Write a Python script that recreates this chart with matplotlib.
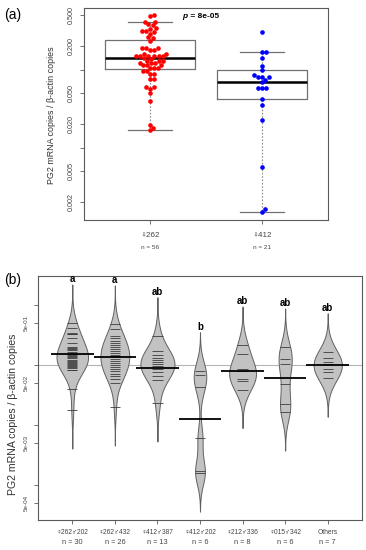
import numpy as np
import matplotlib
matplotlib.use('Agg')
import matplotlib.pyplot as plt

plt.rcParams['font.family'] = ['Liberation Sans', 'DejaVu Sans']

# ---- panel (a): PG2 expression, two female lines ----
a_labels = ['\u2640262', '\u2640412']
a_counts = ['n = 56', 'n = 21']
pg2_262 = [0.50, 0.49, 0.41, 0.41, 0.38, 0.37, 0.34, 0.335, 0.31, 0.31, 0.305, 0.29,
           0.26, 0.255, 0.235, 0.19, 0.19, 0.188, 0.178, 0.176, 0.16, 0.158,
           0.149, 0.149, 0.149, 0.149, 0.149, 0.149, 0.139, 0.138,
           0.13, 0.13, 0.13, 0.122, 0.122, 0.122, 0.114, 0.114, 0.114,
           0.104, 0.104, 0.104, 0.096, 0.095, 0.089, 0.088, 0.077, 0.076,
           0.060, 0.060, 0.057, 0.050, 0.0395, 0.0197, 0.018, 0.0167]
pg2_412 = [0.30, 0.166, 0.166, 0.139, 0.112, 0.099, 0.085, 0.080, 0.080, 0.080,
           0.074, 0.069, 0.059, 0.059, 0.059, 0.042, 0.035, 0.0226, 0.0057,
           0.00164, 0.0015]
# box stats: (whislo, q1, med, q3, whishi)
box_262 = (0.0168, 0.1007, 0.139, 0.241, 0.41)
box_412 = (0.00149, 0.0415, 0.069, 0.099, 0.166)
p_text = '8e-05'

# ---- panel (b): beanplots per cross ----
b_labels = ['\u2640262\u2642202', '\u2640262\u2642432', '\u2640412\u2642387',
            '\u2640412\u2642202', '\u2640212\u2642336', '\u2640015\u2642342', 'Others']
b_counts = ['n = 30', 'n = 26', 'n = 13', 'n = 6', 'n = 8', 'n = 6', 'n = 7']
g_262_202 = [0.494, 0.408, 0.337, 0.330, 0.318, 0.278, 0.229, 0.197, 0.193, 0.182,
             0.175, 0.162, 0.150, 0.145, 0.139, 0.134, 0.127, 0.119, 0.117, 0.111,
             0.107, 0.102, 0.0986, 0.0949, 0.0914, 0.0879, 0.0830, 0.0814, 0.0393, 0.0175]
g_262_432 = [0.476, 0.393, 0.300, 0.278, 0.248, 0.229, 0.212, 0.197, 0.182, 0.169,
             0.156, 0.145, 0.139, 0.134, 0.124, 0.115, 0.107, 0.0986, 0.0914, 0.0846,
             0.0783, 0.0698, 0.0647, 0.0587, 0.0494, 0.0197]
g_412_387 = [0.303, 0.169, 0.145, 0.129, 0.119, 0.111, 0.102, 0.0949, 0.0846,
             0.0754, 0.0647, 0.0555, 0.0230]
g_412_202 = [0.0792, 0.0672, 0.0419, 0.00592, 0.00169, 0.00156]
g_212_336 = [0.212, 0.150, 0.0846, 0.0799, 0.0769, 0.0587, 0.0544, 0.0385]
g_015_342 = [0.197, 0.124, 0.102, 0.0476, 0.0221, 0.0162]
g_others = [0.164, 0.128, 0.109, 0.101, 0.0846, 0.0762, 0.0592]
b_groups = [g_262_202, g_262_432, g_412_387, g_412_202, g_212_336, g_015_342, g_others]
b_means = [0.149, 0.136, 0.089, 0.0125, 0.0784, 0.059, 0.0998]
overall_mean = 0.0998
b_letters = ['a', 'a', 'ab', 'b', 'ab', 'ab', 'ab']

ylabel = 'PG2 mRNA copies / \u03b2-actin copies'
frame_col = '#5a5a5a'
tick_col = '#444444'

fig = plt.figure(figsize=(3.66, 5.5), dpi=100)


def style_frame(ax):
    for s in ax.spines.values():
        s.set_color(frame_col)
        s.set_linewidth(0.8)
    ax.tick_params(colors=frame_col, length=3, width=0.6, labelcolor=tick_col)
    ax.minorticks_off()


def swarm(ydisp, dia):
    # simple beeswarm: put each point as near the centre as it fits
    xs = np.zeros(len(ydisp))
    placed = []
    for i in np.argsort(ydisp):
        y = ydisp[i]
        cands = [0.0]
        for px, py in placed:
            dy = abs(py - y)
            if dy < dia:
                dx = np.sqrt(dia ** 2 - dy ** 2)
                cands += [px + dx, px - dx]
        cands.sort(key=abs)
        for c in cands:
            if all((c - px) ** 2 + (y - py) ** 2 >= dia ** 2 - 1e-6 for px, py in placed):
                xs[i] = c
                break
        placed.append((xs[i], y))
    return xs


# ================= panel (a) =================
axa = fig.add_axes([84 / 366, 1 - 220 / 550, 244 / 366, 212 / 550])
axa.set_yscale('log')
axa.set_xlim(0.41, 2.59)
axa.set_ylim(0.00119, 0.615)

stats = []
for b in (box_262, box_412):
    stats.append(dict(whislo=b[0], q1=b[1], med=b[2], q3=b[3], whishi=b[4], fliers=[]))
axa.bxp(stats, positions=[1, 2], widths=0.8, capwidths=0.4, showfliers=False,
        boxprops=dict(color='#707070', lw=0.9),
        medianprops=dict(color='black', lw=1.8),
        whiskerprops=dict(color='#8c8c8c', lw=0.8, ls=(0, (1.5, 1.5))),
        capprops=dict(color='#707070', lw=0.9))

xpix = axa.transData.transform((1, 1))[0] - axa.transData.transform((0, 1))[0]
for pos, vals, col in ((1, pg2_262, 'red'), (2, pg2_412, 'blue')):
    vals = np.array(vals)
    yd = axa.transData.transform(np.column_stack([np.full(len(vals), pos), vals]))[:, 1]
    off = swarm(yd, 4.2) / xpix
    axa.scatter(pos + off, vals, s=11, color=col, linewidths=0, zorder=3)

a_ticks = [0.5, 0.2, 0.1, 0.05, 0.02, 0.01, 0.005, 0.002]
axa.set_yticks(a_ticks)
axa.set_yticklabels(['%.3f' % t if t not in (0.1, 0.01) else '' for t in a_ticks],
                    rotation=90, va='center', fontsize=5.2)
axa.set_xticks([1, 2])
axa.set_xticklabels([])
style_frame(axa)
for i, (lab, cnt) in enumerate(zip(a_labels, a_counts)):
    axa.text(i + 1, -0.075, lab, transform=axa.get_xaxis_transform(), ha='center',
             va='center', fontsize=5.8, color=tick_col)
    axa.text(i + 1, -0.132, cnt, transform=axa.get_xaxis_transform(), ha='center',
             va='center', fontsize=4.6, color=tick_col)
axa.text(1.33, 0.962, 'p', transform=axa.get_xaxis_transform(), fontsize=6,
         fontweight='bold', fontstyle='italic', ha='right', va='center')
axa.text(1.335, 0.962, ' = ' + p_text, transform=axa.get_xaxis_transform(), fontsize=6,
         fontweight='bold', ha='left', va='center')
fig.text(52 / 366, 1 - 115 / 550, ylabel, rotation=90, ha='center', va='center',
         fontsize=6.4, color='#333333')
fig.text(4 / 366, 1 - 15 / 550, '(a)', fontsize=10, ha='left', va='center')

# ================= panel (b) =================
axb = fig.add_axes([38 / 366, 1 - 520 / 550, 324 / 366, 244 / 550])
axb.set_yscale('log')
axb.set_xlim(0.195, 7.805)
axb.set_ylim(2.58e-4, 3.0)

bw = 0.214      # common bandwidth, log10 units
grownage = 10   # beans with fewer points are drawn smaller (as in beanplot)
kde = []
for vals in b_groups:
    lv = np.log10(vals)
    grid = np.linspace(lv.min() - 3 * bw, lv.max() + 3 * bw, 300)
    dens = np.exp(-0.5 * ((grid[:, None] - lv[None, :]) / bw) ** 2).sum(1)
    dens = dens / (len(lv) * bw * np.sqrt(2 * np.pi))
    dens = dens * min(len(lv), grownage) / grownage
    kde.append((grid, dens))
scale = 0.4 / max(d.max() for g, d in kde)

axb.axhline(overall_mean, color='#b5b5b5', lw=0.8, zorder=1)
for i, (vals, (grid, dens)) in enumerate(zip(b_groups, kde)):
    pos = i + 1
    hw = dens * scale
    yv = 10 ** grid
    axb.fill_betweenx(yv, pos - hw, pos + hw, facecolor='#c2c2c2',
                      edgecolor='#606060', lw=0.7, zorder=2)
    axb.hlines(vals, pos - 0.12, pos + 0.12, color='#3c3c3c', lw=0.6, zorder=3)
    axb.hlines(b_means[i], pos - 0.5, pos + 0.5, color='black', lw=1.3, zorder=4)
    axb.annotate(b_letters[i], (pos, yv[-1]), xytext=(0, 0.5), textcoords='offset points',
                 ha='center', va='bottom', fontsize=7, fontweight='bold')

b_ticks = [1, 0.5, 0.1, 0.05, 0.01, 0.005, 0.001, 0.0005]
axb.set_yticks(b_ticks)
axb.set_yticklabels(['%.0e' % t if str(t).lstrip('0.').startswith('5') else '' for t in b_ticks],
                    rotation=90, va='center', fontsize=4.5)
axb.set_xticks(range(1, 8))
axb.set_xticklabels([])
style_frame(axb)
for i, (lab, cnt) in enumerate(zip(b_labels, b_counts)):
    axb.text(i + 1, -0.053, lab, transform=axb.get_xaxis_transform(), ha='center',
             va='center', fontsize=4.8, color=tick_col)
    axb.text(i + 1, -0.094, cnt, transform=axb.get_xaxis_transform(), ha='center',
             va='center', fontsize=5.3, color=tick_col)
fig.text(13 / 366, 1 - 414 / 550, ylabel, rotation=90, ha='center', va='center',
         fontsize=7.6, color='#333333')
fig.text(4 / 366, 1 - 280 / 550, '(b)', fontsize=10, ha='left', va='center')

fig.savefig('out.png', dpi=100)
